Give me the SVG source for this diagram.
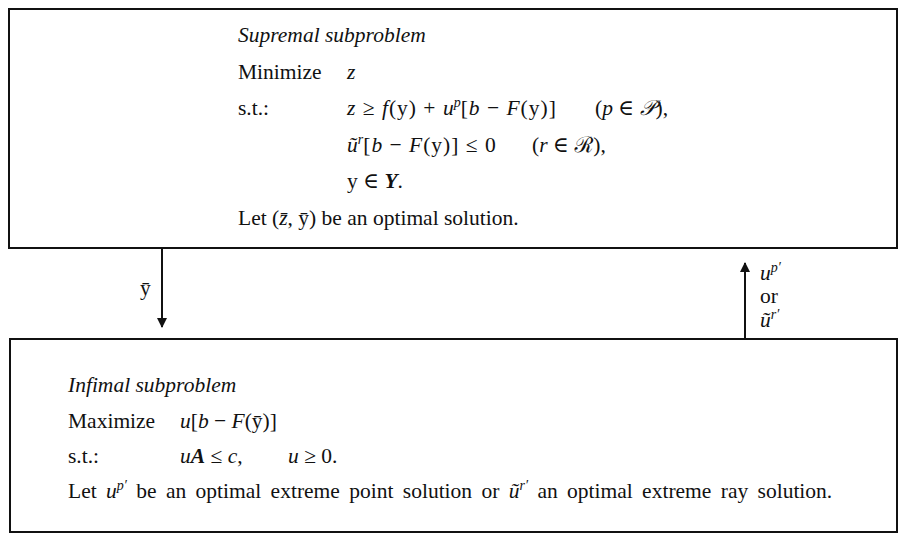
<svg xmlns="http://www.w3.org/2000/svg" width="901" height="534" viewBox="0 0 901 534">
<style>
text{font-family:"Liberation Serif","DejaVu Serif",serif;font-size:21.5px;fill:#111}
.i{font-style:italic}
.bi{font-style:italic;font-weight:bold}
.box{fill:#fff;stroke:#111;stroke-width:2}
.conn{stroke:#111;stroke-width:2;fill:none}
.sm{font-size:14px;font-style:italic}
.scr{font-family:"DejaVu Serif","Noto Sans",serif;font-style:italic}
.ws{word-spacing:4px}
.m{letter-spacing:1px}
</style>
<defs>
<marker id="ah" viewBox="0 0 10 10" refX="9" refY="5" markerWidth="5" markerHeight="5" orient="auto" markerUnits="strokeWidth">
<path d="M0,0 L10,5 L0,10 z" fill="#111"/>
</marker>
</defs>
<rect width="901" height="534" fill="#fff"/>
<g id="node-supremal">
<rect class="box" x="9" y="9" width="888" height="239"/>
<text x="238" y="42" class="i">Supremal subproblem</text>
<text x="238" y="79">Minimize<tspan x="347" class="i">z</tspan></text>
<text x="238" y="115">s.t.:<tspan x="347" class="i m">z</tspan><tspan class="m"> ≥ </tspan><tspan class="i m">f</tspan><tspan class="m">(y) + </tspan><tspan class="i">u</tspan><tspan class="sm" dy="-8">p</tspan><tspan dy="8" class="m">[</tspan><tspan class="i m">b</tspan><tspan class="m"> − </tspan><tspan class="i m">F</tspan><tspan class="m">(y)]</tspan><tspan x="595">(</tspan><tspan class="i">p</tspan> ∈ <tspan class="scr">𝒫</tspan>),</text>
<text x="347" y="152"><tspan class="i">ũ</tspan><tspan class="sm" dy="-8">r</tspan><tspan dy="8" class="m">[</tspan><tspan class="i m">b</tspan><tspan class="m"> − </tspan><tspan class="i m">F</tspan><tspan class="m">(y)] ≤ 0</tspan><tspan x="532">(</tspan><tspan class="i">r</tspan> ∈ <tspan class="scr">ℛ</tspan>),</text>
<text x="347" y="188">y ∈ <tspan class="bi">Y</tspan>.</text>
<text x="238" y="225">Let (<tspan class="i">z̄</tspan>, ȳ) be an optimal solution.</text>
</g>
<g id="node-infimal">
<rect class="box" x="10" y="339" width="887" height="193"/>
<text x="68" y="392" class="i">Infimal subproblem</text>
<text x="68" y="428">Maximize<tspan x="180" class="i">u</tspan>[<tspan class="i">b</tspan> − <tspan class="i">F</tspan>(ȳ)]</text>
<text x="68" y="463">s.t.:<tspan x="180" class="i">u</tspan><tspan class="bi">A</tspan> ≤ <tspan class="i">c</tspan>,<tspan x="288" class="i">u</tspan> ≥ 0.</text>
<text x="68" y="498" class="ws">Let <tspan class="i">u</tspan><tspan class="sm" dy="-8">p′</tspan><tspan dy="8"> be an optimal extreme point solution or </tspan><tspan class="i">ũ</tspan><tspan class="sm" dy="-8">r′</tspan><tspan dy="8"> an optimal extreme ray solution.</tspan></text>
</g>
<g id="connectors">
<line class="conn" x1="162" y1="248" x2="162" y2="327" marker-end="url(#ah)"/>
<line class="conn" x1="745" y1="339" x2="745" y2="263" marker-end="url(#ah)"/>
<text x="140" y="295">ȳ</text>
<text x="760" y="280" class="i">u<tspan class="sm" dy="-8">p′</tspan></text>
<text x="760" y="303">or</text>
<text x="760" y="327" class="i">ũ<tspan class="sm" dy="-8">r′</tspan></text>
</g>
</svg>
